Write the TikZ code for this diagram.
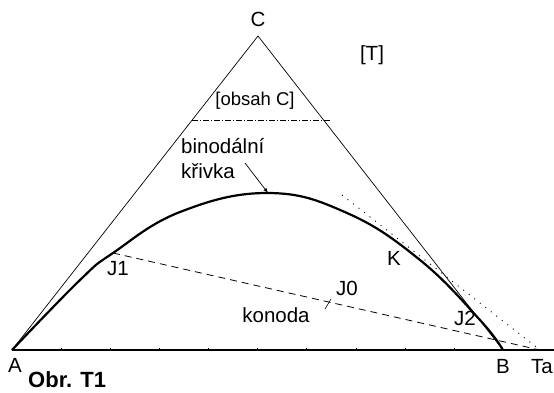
\documentclass[tikz,border=0pt]{standalone}
\usepackage{fontspec}
\setmainfont{Liberation Sans}
\usetikzlibrary{arrows,positioning,calc}

\begin{document}
\begin{tikzpicture}[
    x=1pt, y=-1pt,
    side/.style={line width=0.7pt},
    base/.style={line width=1.3pt},
    binodal/.style={line width=2.2pt},
    tieline/.style={line width=0.8pt, dash pattern=on 7pt off 5pt},
    tangent/.style={line width=0.9pt, dash pattern=on 1pt off 6pt},
    level/.style={line width=0.6pt, dash pattern=on 6pt off 2pt on 1pt off 2pt},
    arrow/.style={-latex, line width=0.7pt},
    lbl/.style={font=\fontsize{20.5}{25}\selectfont, inner sep=0pt, anchor=base}
]
    \useasboundingbox (0,0) rectangle (554,392);

    % corners of the diagram
    \coordinate (A) at (12,350);
    \coordinate (B) at (503,350);
    \coordinate (C) at (258,36);
    \coordinate (Ta) at (540,350);
    \coordinate (end) at (554,350);
    \coordinate (J1) at (113,253);
    \coordinate (top) at (268,193);
    \coordinate (tail) at (245,163);
    \coordinate (Kstart) at (342,195);
    \coordinate (Lleft) at (192,120);
    \coordinate (Lright) at (330,120);
    \coordinate (J0a) at (325,309);
    \coordinate (J0b) at (331,299);

    \draw[side] (A) -- (C) -- (B);
    \draw[base] (A) -- (end);
    \foreach \i in {1,...,9}
        \draw[line width=0.4pt] ($(A)!\i/10!(B)$) -- ++(0,-2);
    \draw[level] (Lleft) -- (Lright);

    \draw[binodal] plot[smooth, tension=0.7] coordinates {
        (A) (80,280) (J1) (180,212) (top) (347,213)
        (420,260) (480,320) (B)};

    \draw[tieline] (J1) -- (Ta);
    \draw[line width=0.6pt] (J0a) -- (J0b);
    \draw[tangent] (Kstart) -- (Ta);
    \draw[arrow] (tail) -- (top);

    \node[lbl] (lC) at (258,26) {C};
    \node[lbl] (lT) at (372,60) {[T]};
    \node[lbl, font=\fontsize{18.5}{22}\selectfont] (lobsah) at (255,105) {[obsah C]};
    \node[lbl, anchor=base west] (lbin) at (181,153) {binodální};
    \node[lbl, anchor=base west] (lkriv) at (181,178) {křivka};
    \node[lbl] (lJ1) at (118,275) {J1};
    \node[lbl] (lJ0) at (347,295) {J0};
    \node[lbl] (lkon) at (276,322) {konoda};
    \node[lbl] (lK) at (394,265) {K};
    \node[lbl] (lJ2) at (465,325) {J2};
    \node[lbl] (lA) at (15,372) {A};
    \node[lbl] (lB) at (503,373) {B};
    \node[lbl] (lTa) at (542,373) {Ta};
    \node[lbl, anchor=base west, font=\fontsize{22}{26}\selectfont\bfseries] (lobr) at (28,387) {Obr. T1};
\end{tikzpicture}
\end{document}
